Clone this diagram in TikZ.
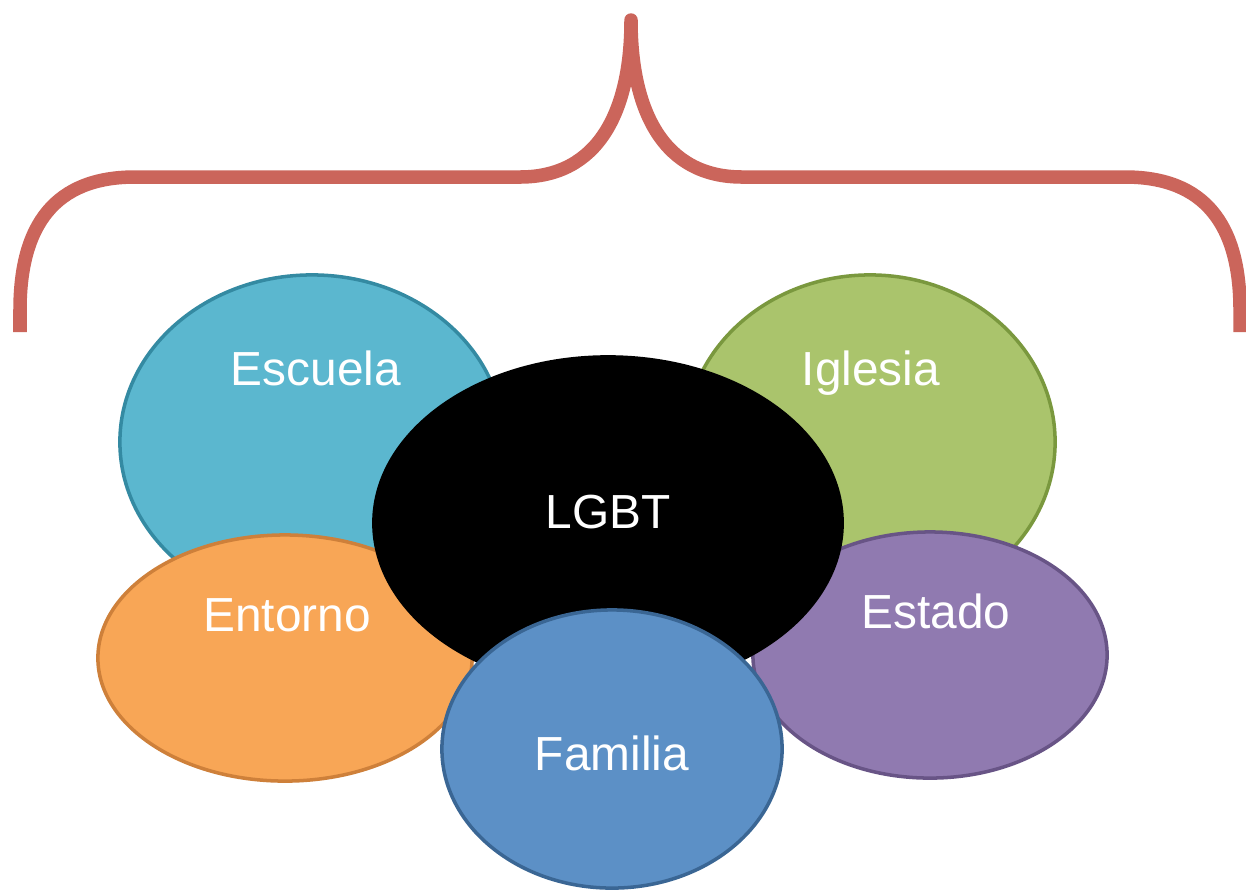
\documentclass[tikz,border=0pt]{standalone}
\usepackage{fontspec}
\setmainfont{Liberation Sans}
\usepackage{tikz}
\usetikzlibrary{shapes.geometric}

\definecolor{bracered}{RGB}{203,101,91}
\definecolor{escuelafill}{RGB}{91,183,207}
\definecolor{escueladraw}{RGB}{52,138,162}
\definecolor{iglesiafill}{RGB}{170,196,108}
\definecolor{iglesiadraw}{RGB}{122,152,62}
\definecolor{entornofill}{RGB}{248,166,86}
\definecolor{entornodraw}{RGB}{206,128,58}
\definecolor{estadofill}{RGB}{144,122,176}
\definecolor{estadodraw}{RGB}{104,84,134}
\definecolor{familiafill}{RGB}{92,144,198}
\definecolor{familiadraw}{RGB}{58,102,148}

\tikzset{
  bubble/.style={ellipse, inner sep=0pt, line width=1pt},
  word/.style={anchor=base, text=white, font=\fontsize{13.6}{16}\selectfont},
}

\begin{document}
\begin{tikzpicture}[x=0.01cm, y=-0.01cm]
        \useasboundingbox (0,0) rectangle (1246,890);

        % Brace
        \draw[bracered, line width=0.135cm, line join=round]
            (20,332) -- (20,310) .. controls (20,225) and (55,177) .. (135,177)
            -- (520,177) .. controls (598,177) and (631,112) .. (631,20)
            .. controls (631,112) and (664,177) .. (742,177)
            -- (1125,177) .. controls (1205,177) and (1240,225) .. (1240,310)
            -- (1240,332);

        % Back ellipses
        \node[bubble, fill=escuelafill, draw=escueladraw,
              minimum width=3.84cm, minimum height=3.34cm] (escuela) at (312,442) {};
        \node[bubble, fill=iglesiafill, draw=iglesiadraw,
              minimum width=3.70cm, minimum height=3.34cm] (iglesia) at (870,442) {};

        % Middle ellipses
        \node[bubble, fill=entornofill, draw=entornodraw,
              minimum width=3.74cm, minimum height=2.46cm] (entorno) at (285,658) {};
        \node[bubble, fill=estadofill, draw=estadodraw,
              minimum width=3.54cm, minimum height=2.46cm] (estado) at (930,655) {};

        % Center
        \node[bubble, fill=black, draw=black,
              minimum width=4.68cm, minimum height=3.32cm] (lgbt) at (608,523) {};

        % Front ellipse
        \node[bubble, fill=familiafill, draw=familiadraw,
              minimum width=3.40cm, minimum height=2.78cm] (familia) at (612,749) {};

        % Labels
        \node[word] (escuela-t) at (316,385) {Escuela};
        \node[word] (iglesia-t) at (871,385) {Iglesia};
        \node[word] (lgbt-t) at (608,528) {LGBT};
        \node[word] (entorno-t) at (287,631) {Entorno};
        \node[word] (estado-t) at (936,628) {Estado};
        \node[word] (familia-t) at (612,770) {Familia};
    \end{tikzpicture}
\end{document}
